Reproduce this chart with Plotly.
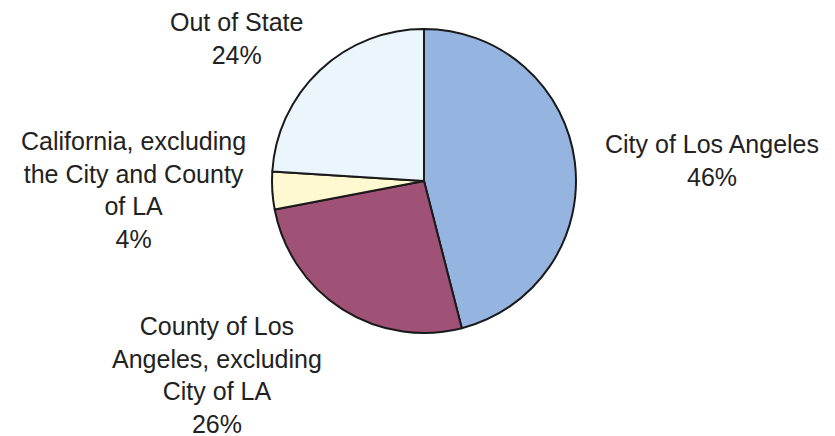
import plotly.graph_objects as go

# Data
categories = ["City of Los Angeles", "County of Los Angeles, excluding City of LA",
              "California, excluding the City and County of LA", "Out of State"]
display_labels = ["City of Los Angeles", "County of Los<br>Angeles, excluding<br>City of LA",
                  "California, excluding<br>the City and County<br>of LA", "Out of State"]
values = [46, 26, 4, 24]
colors = ["#95B4DF", "#A05176", "#FFF9D2", "#EBF5FC"]

W, H = 835, 436
OFF = 8  # page body margin
# label block centres in pixels (reference picture)
label_pos = [(712, 161), (217, 376), (134, 191), (237, 40)]
cx, cy, r = 424 - OFF, 181 - OFF, 152

fig = go.Figure(go.Pie(
    labels=categories,
    values=values,
    sort=False,
    direction="clockwise",
    rotation=0,
    textinfo="none",
    hoverinfo="label+percent",
    marker=dict(colors=colors, line=dict(color="#1a1a1a", width=2)),
    showlegend=False,
    domain=dict(x=[(cx - r) / W, (cx + r) / W],
                y=[1 - (cy + r) / H, 1 - (cy - r) / H]),
))

total = sum(values)
for lab, v, (px, py) in zip(display_labels, values, label_pos):
    fig.add_annotation(
        x=(px - OFF) / W, y=1 - (py - OFF - 1) / H, xref="paper", yref="paper",
        xanchor="center", yanchor="middle", showarrow=False,
        text=f"{lab}<br>{round(100 * v / total)}%",
        font=dict(family="Liberation Sans, Arial, sans-serif", size=25, color="#222222"),
        align="center",
    )

fig.update_layout(
    width=W, height=H,
    margin=dict(l=0, r=0, t=0, b=0),
    paper_bgcolor="white",
    plot_bgcolor="white",
)

fig.write_html("out.html")
